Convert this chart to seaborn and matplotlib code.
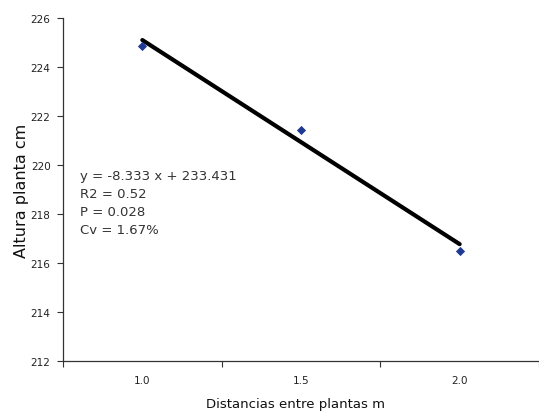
import matplotlib
matplotlib.use("Agg")
import matplotlib.pyplot as plt
import seaborn as sns
import pandas as pd

# data
distances = [1.0, 1.5, 2.0]
heights = [224.86, 221.43, 216.49]
trend_x = [1.0, 2.0]
trend_y = [225.10, 216.77]
y_ticks = [212, 214, 216, 218, 220, 222, 224, 226]
x_tick_labels = ["1.0", "1.5", "2.0"]
stats_text = ["y = -8.333 x + 233.431", "R2 = 0.52", "P = 0.028", "Cv = 1.67%"]

sns.set_style("white")
plt.rcParams['font.family'] = ['DejaVu Sans']

fig = plt.figure(figsize=(5.39, 4.14), dpi=100)
ax = fig.add_axes([63/539, 1 - 362/414, 1 - 63/539, (362 - 19)/414])

pts = pd.DataFrame({"x": distances, "y": heights})
line = pd.DataFrame({"x": trend_x, "y": trend_y})

sns.lineplot(data=line, x="x", y="y", ax=ax, color="black", linewidth=3, zorder=2)
sns.scatterplot(data=pts, x="x", y="y", ax=ax, marker="D", s=22, color="#1f3a93",
                edgecolor="#1f3a93", linewidth=0, zorder=3)

ax.set_xlim(0.75, 2.25)
ax.set_ylim(212, 226)
ax.set_yticks(y_ticks)
ax.set_yticklabels([str(t) for t in y_ticks], fontsize=7.5, color="#222222")
# category boundaries as ticks, labels centred on categories
ax.set_xticks([0.75, 1.25, 1.75, 2.25])
ax.set_xticklabels([])
ax.set_xticks(distances, minor=True)
ax.set_xticklabels(x_tick_labels, minor=True, fontsize=7.5, color="#222222")
ax.tick_params(axis="x", which="minor", bottom=False, length=0, pad=10)
ax.tick_params(axis="x", which="major", bottom=True, length=4, width=0.8, color="#333333", direction="out")
ax.tick_params(axis="y", left=True, length=4, width=0.8, color="#333333", direction="out", pad=5)

for side in ["top", "right"]:
    ax.spines[side].set_visible(False)
for side in ["left", "bottom"]:
    ax.spines[side].set_color("#333333")
    ax.spines[side].set_linewidth(0.9)

ax.set_xlabel("")
ax.set_ylabel("")
fig.text(22/539, 1 - 191/414, "Altura planta cm", rotation=90, ha="center", va="center",
         fontsize=11.5, color="#111111")
fig.text(295/539, 1 - 405/414, "Distancias entre plantas m", ha="center", va="center",
         fontsize=9.5, color="#111111")

for i, s in enumerate(stats_text):
    fig.text(80/539, 1 - (177 + 18*i)/414, s, ha="left", va="center", fontsize=9.5, color="#333333")

fig.savefig("out.png", dpi=100)
